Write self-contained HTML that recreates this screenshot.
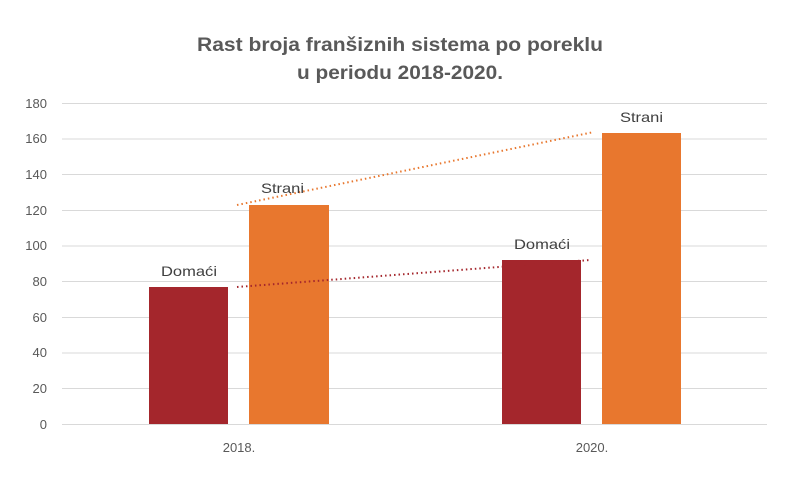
<!DOCTYPE html>
<html><head><meta charset="utf-8"><style>
html,body{margin:0;padding:0;background:#fff;}
svg text{font-family:"Liberation Sans",sans-serif;}
</style></head><body>
<svg width="800" height="480" xmlns="http://www.w3.org/2000/svg">
<rect width="800" height="480" fill="#fff"/>
<text x="197" y="51" textLength="406" lengthAdjust="spacingAndGlyphs" font-size="19" font-weight="bold" fill="#595959">Rast broja franšiznih sistema po poreklu</text>
<text x="297" y="79" textLength="206" lengthAdjust="spacingAndGlyphs" font-size="19" font-weight="bold" fill="#595959">u periodu 2018-2020.</text>
<g stroke="#d9d9d9" stroke-width="1">
<line x1="62" x2="767" y1="103.5" y2="103.5"/>
<line x1="62" x2="767" y1="139" y2="139"/>
<line x1="62" x2="767" y1="174.5" y2="174.5"/>
<line x1="62" x2="767" y1="210.5" y2="210.5"/>
<line x1="62" x2="767" y1="246" y2="246"/>
<line x1="62" x2="767" y1="281.5" y2="281.5"/>
<line x1="62" x2="767" y1="317.5" y2="317.5"/>
<line x1="62" x2="767" y1="353" y2="353"/>
<line x1="62" x2="767" y1="388.5" y2="388.5"/>
<line x1="62" x2="767" y1="424.5" y2="424.5"/>
</g>
<g font-size="13" fill="#595959" text-anchor="end">
<text x="47" y="108">180</text><text x="47" y="143">160</text><text x="47" y="179">140</text>
<text x="47" y="215">120</text><text x="47" y="250">100</text><text x="47" y="286">80</text>
<text x="47" y="322">60</text><text x="47" y="357">40</text><text x="47" y="393">20</text>
<text x="47" y="429">0</text>
</g>
<rect x="149" y="287" width="79" height="137" fill="#A4262C"/>
<rect x="249" y="205" width="80" height="219" fill="#E8772E"/>
<rect x="502" y="260" width="79" height="164" fill="#A4262C"/>
<rect x="602" y="133" width="79" height="291" fill="#E8772E"/>
<line x1="237" y1="205" x2="594" y2="132" stroke="#E8772E" stroke-width="2" stroke-dasharray="1.5,3"/>
<line x1="237" y1="287" x2="590" y2="260" stroke="#A4262C" stroke-width="2" stroke-dasharray="1.5,3"/>
<g font-size="14" fill="#404040">
<text x="161" y="276" textLength="56" lengthAdjust="spacingAndGlyphs">Domaći</text>
<text x="261" y="193" textLength="43" lengthAdjust="spacingAndGlyphs">Strani</text>
<text x="514" y="249" textLength="56" lengthAdjust="spacingAndGlyphs">Domaći</text>
<text x="620" y="122" textLength="43" lengthAdjust="spacingAndGlyphs">Strani</text>
</g>
<g font-size="13" fill="#595959" text-anchor="middle">
<text x="239" y="452">2018.</text>
<text x="592" y="452">2020.</text>
</g>
</svg>
</body></html>
